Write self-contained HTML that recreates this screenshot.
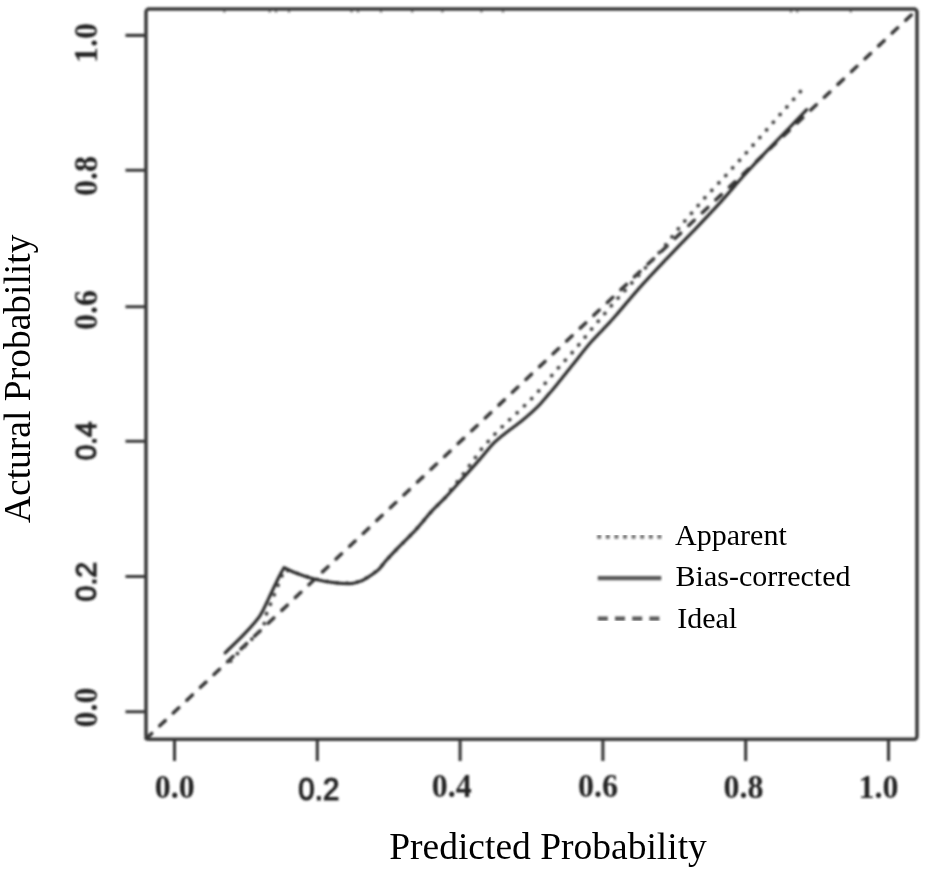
<!DOCTYPE html>
<html>
<head>
<meta charset="utf-8">
<title>Calibration plot</title>
<style>
html,body{margin:0;padding:0;background:#fff;}
body{width:925px;height:871px;overflow:hidden;position:relative;}
svg{position:absolute;left:0;top:0;display:block;}
.tick{font-family:"Liberation Serif",serif;font-weight:bold;font-size:32px;fill:#222;}
.tick .t2{font-family:"Liberation Sans",sans-serif;font-weight:normal;font-size:30px;fill:#242424;stroke:#242424;stroke-width:1.2px;}
.ttl{font-family:"Liberation Serif",serif;font-size:37.5px;fill:#000;}
.leg{font-family:"Liberation Serif",serif;font-size:30px;fill:#000;}
</style>
</head>
<body>
<svg width="925" height="871" viewBox="0 0 925 871">
  <rect x="0" y="0" width="925" height="871" fill="#ffffff"/>
  <defs>
    <filter id="soft" x="-2%" y="-2%" width="104%" height="104%" filterUnits="objectBoundingBox">
      <feGaussianBlur stdDeviation="0.85"/>
    </filter>
  </defs>
  <g filter="url(#soft)">
  <!-- plot frame -->
  <rect x="146" y="9" width="771" height="730.3" rx="3" ry="3" fill="none" stroke="#383838" stroke-width="3.5"/>
  <!-- rug marks along the top edge -->
  <path d="M224.3 10V12.4M269.7 10V12.4M276 10V12.4M289 10V12.4M351.6 10V12.4M358 10V12.4M381 10V12.4M412.2 10V12.4M442.4 10V12.4M481.4 10V12.4M503 10V12.4M791 10V12.4M797.2 10V12.4M850.8 10V12.4" stroke="#383838" stroke-width="2.4" stroke-opacity="0.6" fill="none"/>
  <!-- axis ticks -->
  <g stroke="#383838" stroke-width="3.1" fill="none">
    <path d="M125.5 35.4H146M125.5 170.3H146M125.5 306.7H146M125.5 441.2H146M125.5 576.5H146M125.5 711.7H146"/>
    <path d="M174.5 739V761M317.3 739V761M460.1 739V761M602.9 739V761M745.7 739V761M888.5 739V761"/>
  </g>
  <!-- ideal line -->
  <path d="M146 738.8 L915.5 11" fill="none" stroke="#363636" stroke-width="3.5" stroke-dasharray="7.6 11.07" stroke-dashoffset="-0.2" stroke-linecap="round"/>
  <!-- apparent line -->
  <path d="M800.4 91.6 L746.7 152.4 L726.9 174.3 L705.0 197.6 L680.9 225.5 L662.3 249.2 L612.9 303.8 L604.3 314.1 L592.6 327.9 L575.1 349.4 L555.6 370.9 L542.7 386.3 L536.0 394.2 L527.8 402.4 L520.3 409.9 L512.5 417.0 L504.2 424.8 L497.2 431.5 L491.2 438.2 L484.5 445.4 L478.5 452.8 L473.3 460.8 L467.3 468.3 L462.1 475.8 L456.1 483.2 L450.1 490.7 L444.5 498.4 L432.5 510.3 L423.6 520.7 L414.6 531.2 L399.7 546.1 L386.3 560.3 L378.8 569.3 L369.9 576.0 L362.4 580.4 L352.7 583.4 L334.0 582.7 L313.3 578.7 L295.2 572.7 L284.5 569.5 L266.0 615.0 L263.4 627.5 L232.0 659.0 L226.4 667.5" fill="none" stroke="#444444" stroke-width="3.8" stroke-dasharray="0.1 10.1" stroke-linecap="round" stroke-linejoin="round"/>
  <!-- bias-corrected line -->
  <path d="M225.2 652.8 C228.4 649.6 238.6 640.1 244.4 633.9 C250.2 627.7 255.9 621.7 259.9 615.8 C263.9 609.9 265.4 605.1 268.6 598.6 C271.8 592.1 276.3 582.2 278.9 577.0 C281.5 571.8 283.2 569.2 284.1 567.6 C286.0 568.5 290.3 570.9 295.2 572.7 C300.1 574.6 306.8 577.0 313.3 578.7 C319.8 580.4 327.4 581.9 334.0 582.7 C340.6 583.5 348.0 583.8 352.7 583.4 C357.4 583.0 359.5 581.6 362.4 580.4 C365.3 579.2 367.2 577.9 369.9 576.0 C372.6 574.1 376.1 571.9 378.8 569.3 C381.5 566.7 382.8 564.2 386.3 560.3 C389.8 556.4 395.0 551.0 399.7 546.1 C404.4 541.2 410.6 535.4 414.6 531.2 C418.6 527.0 420.6 524.2 423.6 520.7 C426.6 517.2 429.0 514.0 432.5 510.3 C436.0 506.6 439.9 503.2 444.5 498.4 C449.1 493.6 454.1 487.9 459.9 481.5 C465.7 475.1 473.6 466.4 479.3 459.9 C485.0 453.4 489.5 447.4 494.2 442.7 C498.9 438.0 502.9 435.2 507.6 431.5 C512.3 427.8 517.5 424.4 522.5 420.3 C527.5 416.2 533.0 411.4 537.5 406.9 C542.0 402.4 546.3 396.9 549.4 393.4 C552.5 389.8 552.1 390.5 556.1 385.6 C560.1 380.7 567.5 371.3 573.3 364.1 C579.0 356.9 584.9 349.1 590.6 342.5 C596.4 335.9 603.6 328.9 607.8 324.4 C612.0 319.9 610.4 321.8 616.0 315.3 C621.6 308.8 633.1 295.0 641.7 285.4 C650.3 275.8 658.9 266.9 667.5 257.8 C676.1 248.8 684.7 240.1 693.3 231.1 C701.9 222.1 710.6 213.0 719.2 203.6 C727.8 194.2 736.8 183.3 744.8 174.5 C752.8 165.7 759.7 158.4 767.2 150.6 C774.7 142.8 783.0 134.3 789.6 127.5 C796.2 120.7 803.9 112.6 806.7 109.6" fill="none" stroke="#2e2e2e" stroke-width="3.2" stroke-linejoin="round" stroke-linecap="round"/>
  <!-- x tick labels -->
  <g class="tick" text-anchor="middle">
    <text transform="translate(174.8 797.7) scale(1 1.08)">0.0</text>
    <text class="t2" transform="translate(318.8 799.8) scale(0.98 1.04)">0.2</text>
    <text transform="translate(451.8 797.2) scale(1 1.08)">0.4</text>
    <text transform="translate(597.9 797.2) scale(1 1.08)">0.6</text>
    <text transform="translate(743.6 797.7) scale(1 1.08)">0.8</text>
    <text transform="translate(878.6 797.7) scale(1 1.08)">1.0</text>
  </g>
  <!-- y tick labels -->
  <g class="tick" text-anchor="middle">
    <text transform="translate(96.9 43) rotate(-90) scale(1 1.04)">1.0</text>
    <text transform="translate(96.9 175.9) rotate(-90) scale(1 1.04)">0.8</text>
    <text transform="translate(96.9 310) rotate(-90) scale(1 1.04)">0.6</text>
    <text class="t2" transform="translate(95.8 440.8) rotate(-90) scale(0.93 1.0)">0.4</text>
    <text class="t2" transform="translate(95.8 581.6) rotate(-90) scale(0.95 1.0)">0.2</text>
    <text transform="translate(96.9 707.6) rotate(-90) scale(1 1.04)">0.0</text>
  </g>
  </g>
  <!-- axis titles -->
  <text class="ttl" x="548" y="858.7" text-anchor="middle">Predicted Probability</text>
  <text class="ttl" transform="translate(30.1 378.8) rotate(-90)" text-anchor="middle">Actural Probability</text>
  <!-- legend -->
  <g filter="url(#soft)">
  <path d="M597.2 536.7H661.4" stroke="#727272" stroke-width="4.2" stroke-dasharray="4 4.6" fill="none"/>
  <path d="M597.8 578.1H661.3" stroke="#585858" stroke-width="4.2" fill="none"/>
  <path d="M597.8 618.7H659.5" stroke="#585858" stroke-width="4.2" stroke-dasharray="10 7.2" fill="none"/>
  </g>
  <g class="leg">
    <text x="675.1" y="545">Apparent</text>
    <text x="675.6" y="585.7">Bias-corrected</text>
    <text x="677.2" y="627.8">Ideal</text>
  </g>
</svg>
</body>
</html>
